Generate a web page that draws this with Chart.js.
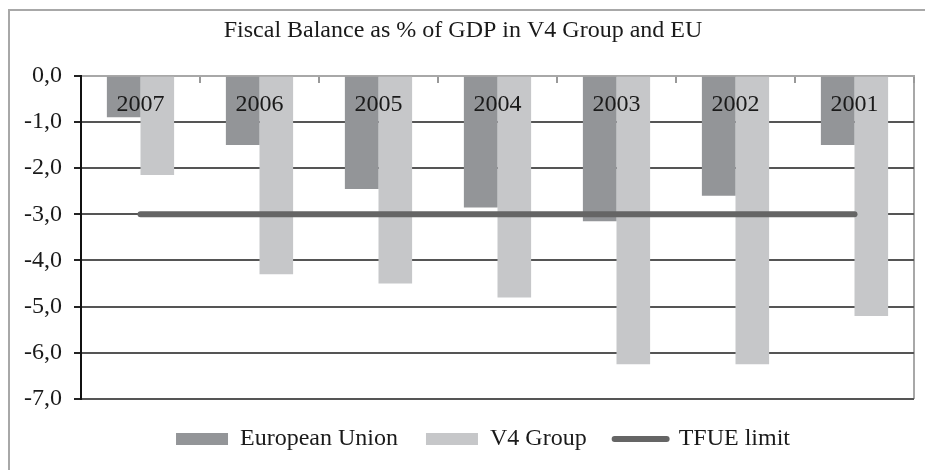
<!DOCTYPE html>
<html>
<head>
<meta charset="utf-8">
<script src="https://cdn.jsdelivr.net/npm/chart.js@4"></script>
<style>
  body { margin: 0; background: #fff; }
  .frame { position: absolute; left: 8px; top: 9px; width: 1000px; height: 1000px; border: 2px solid #a8a8a8; }
  .wrap { position: absolute; left: 0; top: 0; width: 925px; height: 470px; }
</style>
</head>
<body>
<div class="frame"></div>
<div class="wrap"><canvas id="myChart"></canvas></div>
<script>
const years = ['2007', '2006', '2005', '2004', '2003', '2002', '2001']
const euBalance = [-0.9, -1.5, -2.45, -2.85, -3.15, -2.6, -1.5]
const v4Balance = [-2.15, -4.3, -4.5, -4.8, -6.25, -6.25, -5.2]
const tfueLimit = [-3, -3, -3, -3, -3, -3, -3]
const yMin = -7
const yMax = 0

const serif = "'Liberation Serif', 'Times New Roman', serif"
const clrText = '#1a1a1a'
const clrEu = '#939598'
const clrV4 = '#c6c7c9'
const clrLimit = '#656565'
const clrFrame = '#a8a8a8'

// legend sits a little right of the canvas centre in the original
const shiftLegend = {
  id: 'shiftLegend',
  afterUpdate: (chart) => {
    chart.legend.left += 20
    chart.legend.right += 20
    chart.legend.adjustHitBoxes()
  },
}

const config = {
  type: 'bar',
  data: {
    labels: years,
    datasets: [
      {
        label: 'European Union',
        data: euBalance,
        backgroundColor: clrEu,
        pointStyle: 'rect',
        order: 2,
      },
      {
        label: 'V4 Group',
        data: v4Balance,
        backgroundColor: clrV4,
        pointStyle: 'rect',
        order: 2,
      },
      {
        type: 'line',
        label: 'TFUE limit',
        data: tfueLimit,
        borderColor: clrLimit,
        borderWidth: 6,
        borderCapStyle: 'round',
        pointRadius: 0,
        order: 1,
      },
    ],
  },
  options: {
    responsive: true,
    maintainAspectRatio: false,
    animation: false,
    categoryPercentage: 0.565,
    barPercentage: 1,
    layout: {
      padding: { left: 12, right: 11, top: 0, bottom: 9 },
    },
    scales: {
      x: {
        position: { y: 0 },
        offset: true,
        grid: {
          offset: true,
          color: (ctx) => (ctx.type === 'tick' ? 'rgba(0,0,0,0)' : clrFrame),
          tickColor: '#999',
          tickLength: 6,
          lineWidth: 2,
        },
        border: { color: clrFrame, width: 2 },
        ticks: {
          z: 1, // year labels sit on top of the bars
          padding: 9,
          maxRotation: 0,
          color: clrText,
          font: { family: serif, size: 24 },
        },
      },
      y: {
        min: yMin,
        max: yMax,
        ticks: {
          stepSize: 1,
          padding: 12,
          color: clrText,
          font: { family: serif, size: 24 },
          callback: (value) => value.toFixed(1).replace('.', ','),
        },
        grid: {
          color: (ctx) => (ctx.tick && ctx.tick.value === 0 ? clrFrame : '#555'),
          lineWidth: 2,
          tickLength: 7,
          tickColor: '#222',
        },
        border: { color: '#111', width: 2 },
      },
    },
    plugins: {
      title: {
        display: true,
        text: 'Fiscal Balance as % of GDP in V4 Group and EU',
        color: clrText,
        font: { family: serif, size: 24, weight: 'normal' },
        padding: { top: 16, bottom: 31 },
      },
      legend: {
        position: 'bottom',
        labels: {
          usePointStyle: true,
          pointStyleWidth: 52,
          boxHeight: 12,
          padding: 28,
          color: clrText,
          font: { family: serif, size: 24 },
          sort: (a, b) => a.datasetIndex - b.datasetIndex,
          generateLabels: (chart) => {
            const items = Chart.defaults.plugins.legend.labels.generateLabels(chart)
            items.forEach((item) => {
              if (item.datasetIndex === 2) {
                item.pointStyle = 'line'
                item.lineWidth = 6
                item.lineCap = 'round'
                item.strokeStyle = clrLimit
                item.fillStyle = clrLimit
              }
            })
            return items
          },
        },
      },
      tooltip: { enabled: false },
    },
  },
  plugins: [shiftLegend],
}

const myChart = new Chart(document.getElementById('myChart'), config)
</script>
</body>
</html>
